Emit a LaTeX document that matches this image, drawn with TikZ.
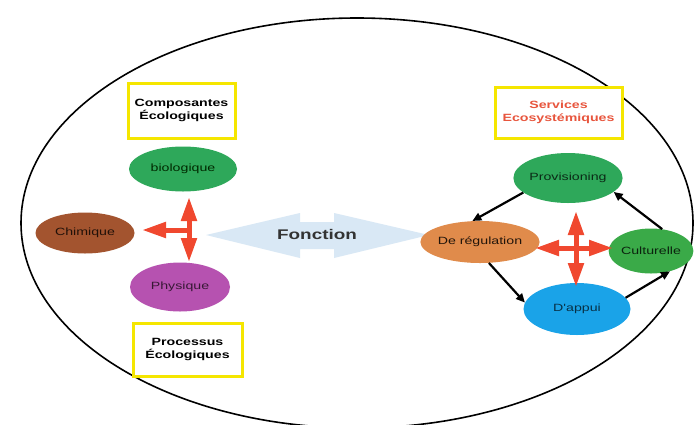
\documentclass[tikz,border=0pt]{standalone}
\usepackage{fontspec}
\setmainfont{Liberation Sans}
\newfontfamily\wf[FakeStretch=1.35]{Liberation Sans}
\usetikzlibrary{shapes.geometric,arrows.meta}
\definecolor{boxyel}{HTML}{F5E600}
\definecolor{arrred}{HTML}{F0482F}
\definecolor{fgreen}{HTML}{2EA85A}
\definecolor{cgreen}{HTML}{3AAA48}
\definecolor{fbrown}{HTML}{A3542F}
\definecolor{fmag}{HTML}{B652B0}
\definecolor{forange}{HTML}{E08B4B}
\definecolor{fblue}{HTML}{1AA3E8}
\definecolor{fonc}{HTML}{D9E8F5}
\definecolor{servred}{HTML}{E8553D}
\begin{document}
\begin{tikzpicture}[x=1pt,y=-1pt,
  lbl/.style={draw=boxyel, line width=3pt, fill=white, align=center, inner sep=0pt,
    font=\wf\bfseries\fontsize{10.5}{13.5}\selectfont},
  oval/.style={ellipse, inner sep=0pt, font=\wf\fontsize{10.5}{12}\selectfont},
  blk/.style={line width=2.2pt, -{Triangle[length=9pt,width=8pt]}},
  redarr/.style={draw=arrred, line width=5pt, -{Triangle[length=24pt,width=15pt]}}
]
\useasboundingbox (0,0) rectangle (695,424);
\clip (0,0) rectangle (695,424);
\fill[white] (0,0) rectangle (695,424);
% big ellipse
\draw[line width=1.6pt] (357,223) ellipse [x radius=336, y radius=205];

% left side
\node[lbl, minimum width=107, minimum height=55] (comp) at (181.5,110.5) {Composantes\\Écologiques};
\node[oval, fill=fgreen, minimum width=108, minimum height=45, text=black!60!green!40!black] (bio) at (183,169) {biologique};
\node[oval, fill=fbrown, minimum width=99, minimum height=41, text=black!80!fbrown] (chim) at (85,233) {Chimique};
\node[oval, fill=fmag, minimum width=100, minimum height=49, text=black!70!fmag] (phys) at (180,287) {Physique};
\node[lbl, minimum width=109, minimum height=53] (proc) at (187.5,349.5) {Processus\\Écologiques};

\coordinate (lc) at (189,230);
\coordinate (lcl) at (142,230);
\coordinate (lcu) at (189,197);
\coordinate (lcd) at (189,262);
\draw[redarr] (lc) -- (lcl);
\draw[redarr] (lc) -- (lcu);
\draw[redarr] (lc) -- (lcd);

% Fonction arrow
\fill[fonc] (206,235) -- (300,213) -- (300,222) -- (334,222) -- (334,213) -- (429,235)
  -- (334,258) -- (334,249) -- (300,249) -- (300,258) -- cycle;
\node[font=\wf\bfseries\fontsize{14}{16}\selectfont, text=black!80] (fon) at (317,234) {Fonction};

% right side
\node[lbl, minimum width=127, minimum height=51, text=servred] (serv) at (558.5,112.5) {Services\\Ecosystémiques};
\node[oval, fill=fgreen, minimum width=107, minimum height=50, text=black!75!fgreen] (prov) at (568,178) {Provisioning};
\node[oval, fill=forange, minimum width=105, minimum height=42, text=black!85!forange] (reg) at (480,242) {De régulation};
\node[oval, fill=cgreen, minimum width=78, minimum height=45, text=black!80!cgreen] (cult) at (651,251) {Culturelle};
\node[oval, fill=fblue, minimum width=107, minimum height=52, text=black!70!fblue] (app) at (577,309) {D'appui};

\coordinate (rc) at (576,248);
\coordinate (rcl) at (535,248);
\coordinate (rcr) at (613,248);
\coordinate (rcu) at (576,211);
\coordinate (rcd) at (576,287);
\draw[redarr] (rc) -- (rcl);
\draw[redarr] (rc) -- (rcr);
\draw[redarr] (rc) -- (rcu);
\draw[redarr] (rc) -- (rcd);

\draw[blk] (prov.198) -- (reg.110);
\draw[blk] (cult.63) -- (prov.343);
\draw[blk] (reg.293) -- (app.173);
\draw[blk] (app.13) -- (cult.313);
\end{tikzpicture}
\end{document}
